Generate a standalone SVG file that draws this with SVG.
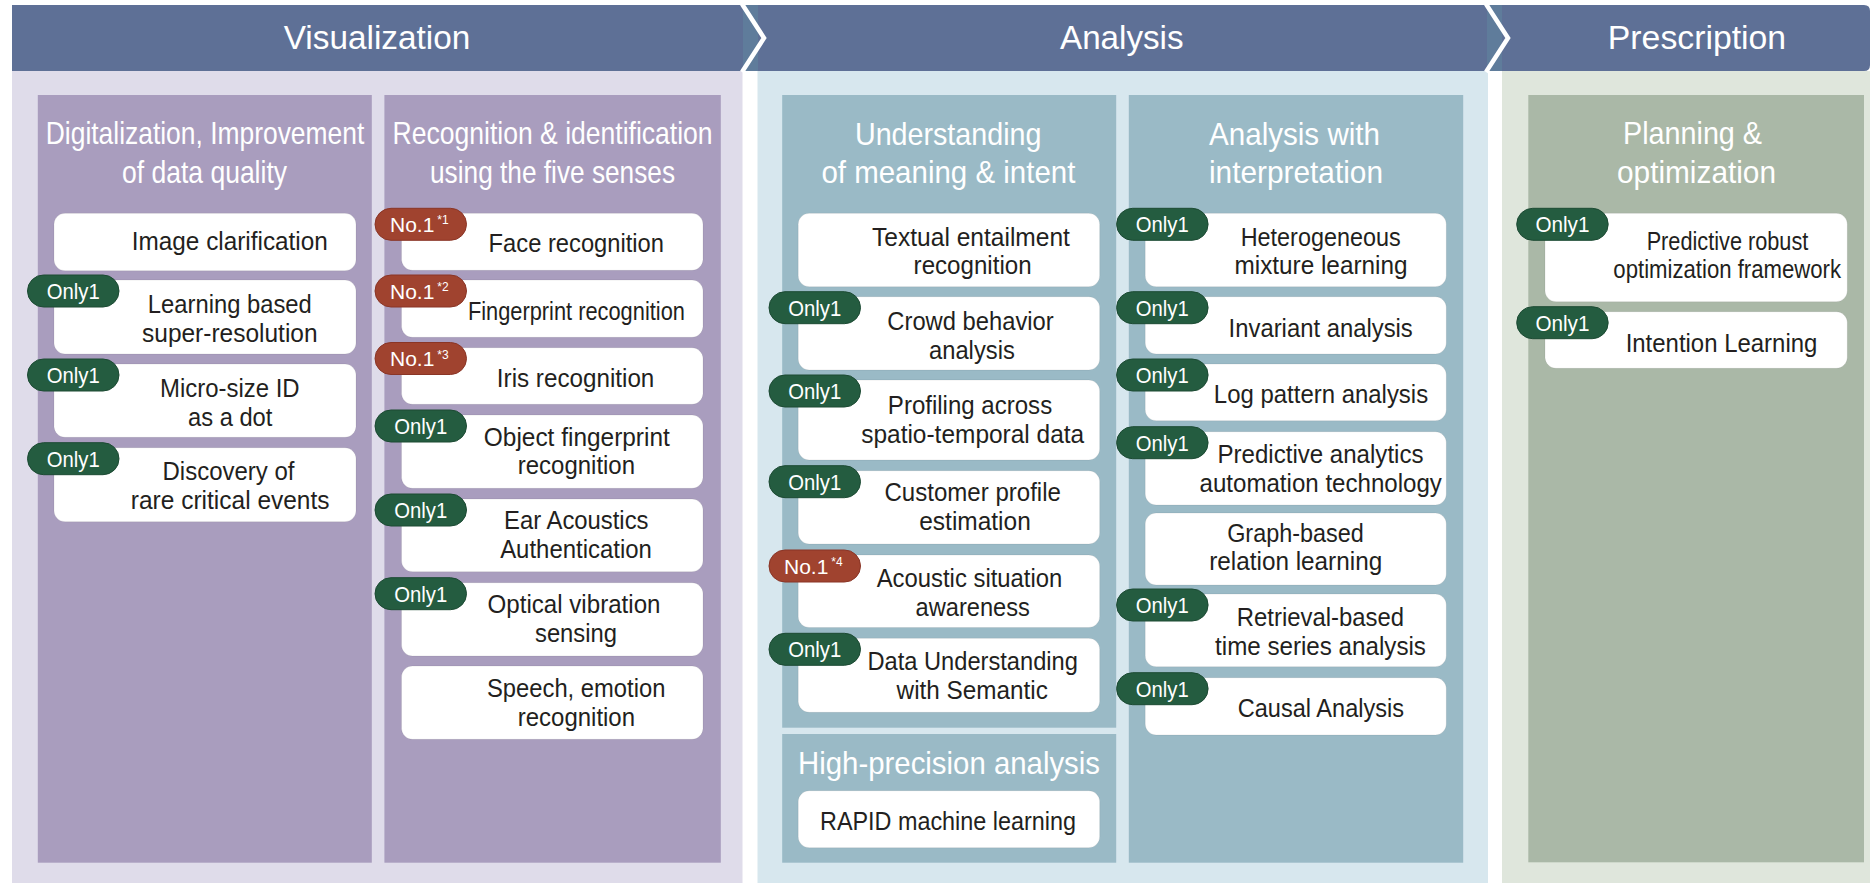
<svg xmlns="http://www.w3.org/2000/svg" width="1870" height="883" viewBox="0 0 1870 883">
<style>
text{font-family:"Liberation Sans",Arial,sans-serif}
.hdr{fill:#5e7096}
.strip{fill:#5f7c9b}
.chev{fill:none;stroke:#ffffff;stroke-width:4.5}
.ht{font-size:34px;fill:#ffffff;text-anchor:middle}
.tt{font-size:32px;fill:#ffffff;text-anchor:middle}
.card{fill:#ffffff;stroke:#000000;stroke-opacity:0.07;stroke-width:1}
.ct{font-size:26px;fill:#231f20;text-anchor:middle}
.only{fill:#245c40;stroke:#1c4a33;stroke-width:1}
.no1{fill:#a0432f;stroke:#8a3526;stroke-width:1}
.bt{font-size:22px;fill:#ffffff;text-anchor:middle}
.bn{font-size:21px;fill:#ffffff}
.sup{font-size:12px}
.pv{fill:#dfdcea}.pa{fill:#d7e7ee}.pp{fill:#dfe6dc}
.cv{fill:#a99dbe}.ca{fill:#9abac6}.cp{fill:#aab8a7}
</style>
<rect x="0" y="0" width="1870" height="883" fill="#ffffff"/>

<g id="panels">
<rect class="pv" x="12" y="71" width="730.5" height="812"/>
<rect class="pa" x="757.5" y="71" width="730.5" height="812"/>
<rect class="pp" x="1502" y="71" width="368" height="812"/>
</g>

<g id="header-visualization">
<polygon class="hdr" points="12,5 742,5 764,38 742,71 12,71"/>
<text class="ht" x="377" y="49.3" textLength="186.6" lengthAdjust="spacingAndGlyphs">Visualization</text>
</g>
<g id="header-analysis">
<polygon class="hdr" points="743,5 1486,5 1508,38 1486,71 743,71"/>
<rect class="strip" x="743" y="5" width="15" height="66"/>
<text class="ht" x="1121.8" y="49.3" textLength="123.5" lengthAdjust="spacingAndGlyphs">Analysis</text>
</g>
<g id="header-prescription">
<path class="hdr" d="M1487,5 H1864 Q1870,5 1870,11 V65 Q1870,71 1864,71 H1487 Z"/>
<rect class="strip" x="1487" y="5" width="15" height="66"/>
<text class="ht" x="1697" y="49.3" textLength="178.3" lengthAdjust="spacingAndGlyphs">Prescription</text>
</g>
<g id="chevrons">
<polyline class="chev" points="742,4 764,38 742,72"/>
<polyline class="chev" points="1486,4 1508,38 1486,72"/>
</g>

<g id="col-digitalization">
<rect class="cv" x="37.8" y="95" width="334" height="767.7"/>
<text class="tt" transform="translate(205 0) scale(0.825 1)" x="0" y="144" textLength="386" lengthAdjust="spacingAndGlyphs">Digitalization, Improvement</text>
<text class="tt" x="204.5" y="182.5" textLength="165" lengthAdjust="spacingAndGlyphs">of data quality</text>
</g>
<g id="col-recognition">
<rect class="cv" x="384.4" y="95" width="336.4" height="767.7"/>
<text class="tt" transform="translate(552.6 0) scale(0.829 1)" x="0" y="144" textLength="386" lengthAdjust="spacingAndGlyphs">Recognition &amp; identification</text>
<text class="tt" x="552.5" y="182.5" textLength="245" lengthAdjust="spacingAndGlyphs">using the five senses</text>
</g>
<g id="col-understanding">
<rect class="ca" x="782.2" y="95" width="334" height="632.7"/>
<text class="tt" x="948.2" y="145" textLength="186.5" lengthAdjust="spacingAndGlyphs">Understanding</text>
<text class="tt" x="948.4" y="182.5" textLength="254" lengthAdjust="spacingAndGlyphs">of meaning &amp; intent</text>
</g>
<g id="col-high-precision">
<rect class="ca" x="782.2" y="734" width="334" height="128.7"/>
<text class="tt" x="949" y="774" textLength="302" lengthAdjust="spacingAndGlyphs">High-precision analysis</text>
</g>
<g id="col-interpretation">
<rect class="ca" x="1128.8" y="95" width="334.4" height="767.7"/>
<text class="tt" x="1294.5" y="145" textLength="171" lengthAdjust="spacingAndGlyphs">Analysis with</text>
<text class="tt" x="1296" y="182.5" textLength="174" lengthAdjust="spacingAndGlyphs">interpretation</text>
</g>
<g id="col-planning">
<rect class="cp" x="1528.3" y="95" width="335.7" height="767.3"/>
<text class="tt" x="1692.5" y="144" textLength="139" lengthAdjust="spacingAndGlyphs">Planning &amp;</text>
<text class="tt" x="1696.5" y="182.5" textLength="159" lengthAdjust="spacingAndGlyphs">optimization</text>
</g>

<g id="connectors"></g>

<!-- Visualization column 1 -->
<g id="n-image-clarification">
<rect class="card" x="54" y="213.3" width="302" height="57.4" rx="11"/>
<text class="ct" x="229.8" y="250" textLength="196" lengthAdjust="spacingAndGlyphs">Image clarification</text>
</g>
<g id="n-super-resolution">
<rect class="card" x="54" y="280" width="302" height="74" rx="11"/>
<rect class="only" x="27.5" y="275" width="91.5" height="32" rx="16"/>
<text class="bt" x="73.2" y="299" textLength="53" lengthAdjust="spacingAndGlyphs">Only1</text>
<text class="ct" x="229.8" y="312.7" textLength="164" lengthAdjust="spacingAndGlyphs">Learning based</text>
<text class="ct" x="229.8" y="341.7" textLength="175.5" lengthAdjust="spacingAndGlyphs">super-resolution</text>
</g>
<g id="n-micro-size-id">
<rect class="card" x="54" y="364" width="302" height="73.3" rx="11"/>
<rect class="only" x="27.5" y="359" width="91.5" height="32" rx="16"/>
<text class="bt" x="73.2" y="383" textLength="53" lengthAdjust="spacingAndGlyphs">Only1</text>
<text class="ct" x="229.8" y="397.3" textLength="139.6" lengthAdjust="spacingAndGlyphs">Micro-size ID</text>
<text class="ct" x="230.2" y="426" textLength="84.4" lengthAdjust="spacingAndGlyphs">as a dot</text>
</g>
<g id="n-rare-events">
<rect class="card" x="54" y="447.7" width="302" height="74" rx="11"/>
<rect class="only" x="27.5" y="442.7" width="91.5" height="32" rx="16"/>
<text class="bt" x="73.2" y="466.7" textLength="53" lengthAdjust="spacingAndGlyphs">Only1</text>
<text class="ct" x="228.5" y="480" textLength="132" lengthAdjust="spacingAndGlyphs">Discovery of</text>
<text class="ct" x="230.2" y="509" textLength="198.7" lengthAdjust="spacingAndGlyphs">rare critical events</text>
</g>

<!-- Visualization column 2 -->
<g id="n-face">
<rect class="card" x="401.5" y="213.3" width="301.5" height="57" rx="11"/>
<rect class="no1" x="375" y="208.3" width="91.5" height="32" rx="16"/>
<text class="bn" x="390" y="231.8">No.1<tspan class="sup" dx="3" dy="-7.5">*1</tspan></text>
<text class="ct" x="576.3" y="252" textLength="175.4" lengthAdjust="spacingAndGlyphs">Face recognition</text>
</g>
<g id="n-fingerprint">
<rect class="card" x="401.5" y="280" width="301.5" height="57.3" rx="11"/>
<rect class="no1" x="375" y="275" width="91.5" height="32" rx="16"/>
<text class="bn" x="390" y="298.5">No.1<tspan class="sup" dx="3" dy="-7.5">*2</tspan></text>
<text class="ct" transform="translate(576.4 0) scale(0.839 1)" x="0" y="320" textLength="258.6" lengthAdjust="spacingAndGlyphs">Fingerprint recognition</text>
</g>
<g id="n-iris">
<rect class="card" x="401.5" y="347.7" width="301.5" height="56.6" rx="11"/>
<rect class="no1" x="375" y="342.5" width="91.5" height="32" rx="16"/>
<text class="bn" x="390" y="366">No.1<tspan class="sup" dx="3" dy="-7.5">*3</tspan></text>
<text class="ct" x="575.6" y="386.7" textLength="157.5" lengthAdjust="spacingAndGlyphs">Iris recognition</text>
</g>
<g id="n-object-fingerprint">
<rect class="card" x="401.5" y="415" width="301.5" height="73.3" rx="11"/>
<rect class="only" x="375" y="410" width="91.5" height="32" rx="16"/>
<text class="bt" x="420.7" y="434" textLength="53" lengthAdjust="spacingAndGlyphs">Only1</text>
<text class="ct" x="576.8" y="445.7" textLength="186" lengthAdjust="spacingAndGlyphs">Object fingerprint</text>
<text class="ct" x="576.4" y="474" textLength="117.3" lengthAdjust="spacingAndGlyphs">recognition</text>
</g>
<g id="n-ear-acoustics">
<rect class="card" x="401.5" y="499" width="301.5" height="72.7" rx="11"/>
<rect class="only" x="375" y="494" width="91.5" height="32" rx="16"/>
<text class="bt" x="420.7" y="518" textLength="53" lengthAdjust="spacingAndGlyphs">Only1</text>
<text class="ct" x="576.3" y="529.3" textLength="144.4" lengthAdjust="spacingAndGlyphs">Ear Acoustics</text>
<text class="ct" x="576" y="558.3" textLength="151.7" lengthAdjust="spacingAndGlyphs">Authentication</text>
</g>
<g id="n-optical-vibration">
<rect class="card" x="401.5" y="582.7" width="301.5" height="73.3" rx="11"/>
<rect class="only" x="375" y="577.7" width="91.5" height="32" rx="16"/>
<text class="bt" x="420.7" y="601.7" textLength="53" lengthAdjust="spacingAndGlyphs">Only1</text>
<text class="ct" x="574" y="613.3" textLength="173" lengthAdjust="spacingAndGlyphs">Optical vibration</text>
<text class="ct" x="576" y="641.7" textLength="82" lengthAdjust="spacingAndGlyphs">sensing</text>
</g>
<g id="n-speech-emotion">
<rect class="card" x="401.5" y="666" width="301.5" height="73.3" rx="11"/>
<text class="ct" x="576.2" y="696.7" textLength="178.4" lengthAdjust="spacingAndGlyphs">Speech, emotion</text>
<text class="ct" x="576.4" y="725.7" textLength="117.3" lengthAdjust="spacingAndGlyphs">recognition</text>
</g>

<!-- Analysis column 1 -->
<g id="n-textual-entailment">
<rect class="card" x="798.2" y="213.3" width="301.5" height="73.4" rx="11"/>
<text class="ct" x="971" y="245.7" textLength="197.8" lengthAdjust="spacingAndGlyphs">Textual entailment</text>
<text class="ct" x="972.6" y="274.3" textLength="118" lengthAdjust="spacingAndGlyphs">recognition</text>
</g>
<g id="n-crowd-behavior">
<rect class="card" x="798.2" y="296.7" width="301.5" height="73.3" rx="11"/>
<rect class="only" x="769" y="291.7" width="91.5" height="32" rx="16"/>
<text class="bt" x="814.7" y="315.7" textLength="53" lengthAdjust="spacingAndGlyphs">Only1</text>
<text class="ct" x="970.5" y="330" textLength="166.3" lengthAdjust="spacingAndGlyphs">Crowd behavior</text>
<text class="ct" x="971.9" y="359" textLength="85.8" lengthAdjust="spacingAndGlyphs">analysis</text>
</g>
<g id="n-profiling">
<rect class="card" x="798.2" y="380" width="301.5" height="80" rx="11"/>
<rect class="only" x="769" y="375" width="91.5" height="32" rx="16"/>
<text class="bt" x="814.7" y="399" textLength="53" lengthAdjust="spacingAndGlyphs">Only1</text>
<text class="ct" x="970" y="414" textLength="164.3" lengthAdjust="spacingAndGlyphs">Profiling across</text>
<text class="ct" x="972.7" y="443.3" textLength="223" lengthAdjust="spacingAndGlyphs">spatio-temporal data</text>
</g>
<g id="n-customer-profile">
<rect class="card" x="798.2" y="470.7" width="301.5" height="73.3" rx="11"/>
<rect class="only" x="769" y="465.7" width="91.5" height="32" rx="16"/>
<text class="bt" x="814.7" y="489.7" textLength="53" lengthAdjust="spacingAndGlyphs">Only1</text>
<text class="ct" x="972.7" y="501" textLength="176.4" lengthAdjust="spacingAndGlyphs">Customer profile</text>
<text class="ct" x="975" y="530" textLength="111.5" lengthAdjust="spacingAndGlyphs">estimation</text>
</g>
<g id="n-acoustic-situation">
<rect class="card" x="798.2" y="555" width="301.5" height="72.5" rx="11"/>
<rect class="no1" x="769" y="550" width="91.5" height="32" rx="16"/>
<text class="bn" x="784" y="573.5">No.1<tspan class="sup" dx="3" dy="-7.5">*4</tspan></text>
<text class="ct" x="969.5" y="587" textLength="185.6" lengthAdjust="spacingAndGlyphs">Acoustic situation</text>
<text class="ct" x="972.7" y="616" textLength="114.4" lengthAdjust="spacingAndGlyphs">awareness</text>
</g>
<g id="n-data-understanding">
<rect class="card" x="798.2" y="638.3" width="301.5" height="74" rx="11"/>
<rect class="only" x="769" y="633.3" width="91.5" height="32" rx="16"/>
<text class="bt" x="814.7" y="657.3" textLength="53" lengthAdjust="spacingAndGlyphs">Only1</text>
<text class="ct" x="972.7" y="670" textLength="210.4" lengthAdjust="spacingAndGlyphs">Data Understanding</text>
<text class="ct" x="972.2" y="699" textLength="151.2" lengthAdjust="spacingAndGlyphs">with Semantic</text>
</g>
<g id="n-rapid">
<rect class="card" x="798.2" y="790.7" width="301.5" height="57" rx="11"/>
<text class="ct" x="948" y="830" textLength="256" lengthAdjust="spacingAndGlyphs">RAPID machine learning</text>
</g>

<!-- Analysis column 2 -->
<g id="n-heterogeneous">
<rect class="card" x="1145.2" y="213.3" width="301.1" height="73.4" rx="11"/>
<rect class="only" x="1116.6" y="208.3" width="91.5" height="32" rx="16"/>
<text class="bt" x="1162.3" y="232.3" textLength="53" lengthAdjust="spacingAndGlyphs">Only1</text>
<text class="ct" x="1320.7" y="245.7" textLength="160" lengthAdjust="spacingAndGlyphs">Heterogeneous</text>
<text class="ct" x="1321" y="274.3" textLength="173" lengthAdjust="spacingAndGlyphs">mixture learning</text>
</g>
<g id="n-invariant">
<rect class="card" x="1145.2" y="296.7" width="301.1" height="57.3" rx="11"/>
<rect class="only" x="1116.6" y="291.7" width="91.5" height="32" rx="16"/>
<text class="bt" x="1162.3" y="315.7" textLength="53" lengthAdjust="spacingAndGlyphs">Only1</text>
<text class="ct" x="1320.7" y="336.7" textLength="184.2" lengthAdjust="spacingAndGlyphs">Invariant analysis</text>
</g>
<g id="n-log-pattern">
<rect class="card" x="1145.2" y="364" width="301.1" height="56.7" rx="11"/>
<rect class="only" x="1116.6" y="359" width="91.5" height="32" rx="16"/>
<text class="bt" x="1162.3" y="383" textLength="53" lengthAdjust="spacingAndGlyphs">Only1</text>
<text class="ct" x="1321" y="402.7" textLength="214.3" lengthAdjust="spacingAndGlyphs">Log pattern analysis</text>
</g>
<g id="n-predictive-analytics">
<rect class="card" x="1145.2" y="431.7" width="301.1" height="73.3" rx="11"/>
<rect class="only" x="1116.6" y="426.7" width="91.5" height="32" rx="16"/>
<text class="bt" x="1162.3" y="450.7" textLength="53" lengthAdjust="spacingAndGlyphs">Only1</text>
<text class="ct" x="1320.5" y="463.3" textLength="206" lengthAdjust="spacingAndGlyphs">Predictive analytics</text>
<text class="ct" transform="translate(1320.7 0) scale(0.955 1)" x="0" y="491.7" textLength="253.8" lengthAdjust="spacingAndGlyphs">automation technology</text>
</g>
<g id="n-graph-based">
<rect class="card" x="1145.2" y="513" width="301.1" height="72" rx="11"/>
<text class="ct" x="1295.5" y="541.7" textLength="136.7" lengthAdjust="spacingAndGlyphs">Graph-based</text>
<text class="ct" x="1295.7" y="570" textLength="173" lengthAdjust="spacingAndGlyphs">relation learning</text>
</g>
<g id="n-retrieval-based">
<rect class="card" x="1145.2" y="594" width="301.1" height="72.7" rx="11"/>
<rect class="only" x="1116.6" y="589" width="91.5" height="32" rx="16"/>
<text class="bt" x="1162.3" y="613" textLength="53" lengthAdjust="spacingAndGlyphs">Only1</text>
<text class="ct" x="1320.4" y="626" textLength="167.2" lengthAdjust="spacingAndGlyphs">Retrieval-based</text>
<text class="ct" x="1320.5" y="655" textLength="210.9" lengthAdjust="spacingAndGlyphs">time series analysis</text>
</g>
<g id="n-causal">
<rect class="card" x="1145.2" y="677.7" width="301.1" height="57.3" rx="11"/>
<rect class="only" x="1116.6" y="672.7" width="91.5" height="32" rx="16"/>
<text class="bt" x="1162.3" y="696.7" textLength="53" lengthAdjust="spacingAndGlyphs">Only1</text>
<text class="ct" x="1320.9" y="716.7" textLength="166.3" lengthAdjust="spacingAndGlyphs">Causal Analysis</text>
</g>

<!-- Prescription -->
<g id="n-predictive-robust">
<rect class="card" x="1545" y="213.3" width="302.3" height="88.4" rx="11"/>
<rect class="only" x="1516.7" y="208.3" width="91.5" height="32" rx="16"/>
<text class="bt" x="1562.4" y="232.3" textLength="54" lengthAdjust="spacingAndGlyphs">Only1</text>
<text class="ct" x="1727.5" y="250" textLength="161.7" lengthAdjust="spacingAndGlyphs">Predictive robust</text>
<text class="ct" transform="translate(1727.2 0) scale(0.852 1)" x="0" y="277.7" textLength="267.3" lengthAdjust="spacingAndGlyphs">optimization framework</text>
</g>
<g id="n-intention-learning">
<rect class="card" x="1545" y="311.7" width="302.3" height="56.6" rx="11"/>
<rect class="only" x="1516.7" y="306.7" width="91.5" height="32" rx="16"/>
<text class="bt" x="1562.4" y="330.7" textLength="54" lengthAdjust="spacingAndGlyphs">Only1</text>
<text class="ct" x="1721.5" y="351.7" textLength="191.7" lengthAdjust="spacingAndGlyphs">Intention Learning</text>
</g>
</svg>
